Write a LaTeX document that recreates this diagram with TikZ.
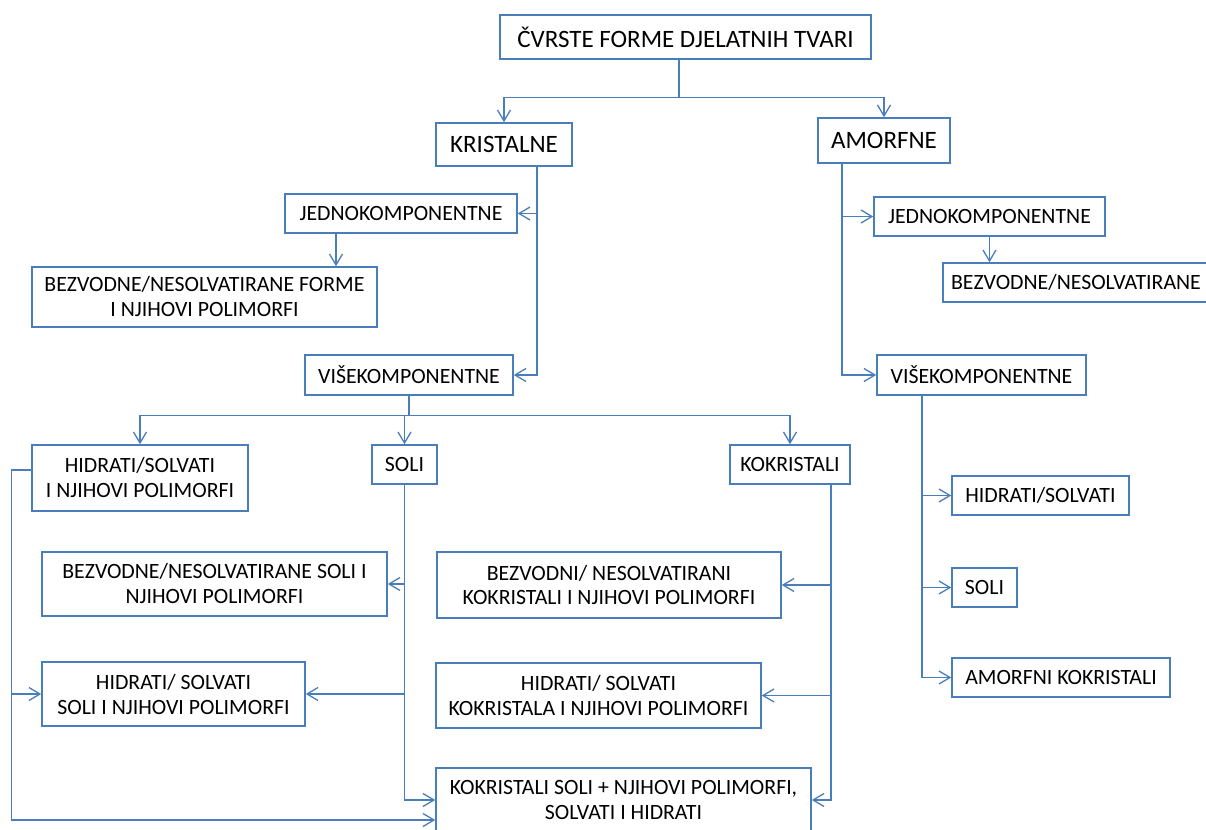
\documentclass[tikz,border=0pt]{standalone}
\usepackage{fontspec}
\setmainfont{Carlito}
\usetikzlibrary{arrows.meta}
\definecolor{mslink}{HTML}{4A7EBB}

\begin{document}
\begin{tikzpicture}[
  x=0.5pt, y=-0.5pt,
  font=\fontsize{10.9}{12.5}\selectfont,
  box/.style    = {draw=mslink, line width=0.75pt, align=center, inner sep=0pt},
  sz/.style 2 args = {minimum width=#1*0.5pt, minimum height=#2*0.5pt},
  big/.style    = {font=\fontsize{12.5}{15}\selectfont},
  flow/.style   = {-{Straight Barb[length=5.5pt,width=6.5pt]}, draw=mslink, line width=0.65pt},
  trunk/.style  = {draw=mslink, line width=1.1pt},
]
\useasboundingbox (0,0) rectangle (1206,830);
\clip (0,0) rectangle (1206,830);

% ---------- top level -----------------------------------------------------------------------
\node[box, big, sz={371}{44}] (top)   at (685.5,37)  {ČVRSTE FORME DJELATNIH TVARI};
\node[box, big, sz={136}{43}] (kris)  at (504,144.5) {KRISTALNE};
\node[box, big, sz={132}{45}] (amorf) at (884,140.5) {AMORFNE};
\coordinate (tx) at (679,0);
\draw[flow] (top.south -| tx) -- ++(0,38) -| (kris);
\draw[flow] (top.south -| tx) -- ++(0,38) -| (amorf);

% ---------- crystalline branch --------------------------------------------------------------
\node[box, sz={232}{39}] (jedL) at (401,213.5) {JEDNOKOMPONENTNE};
\node[box, sz={345}{60}] (bezF) at (204.5,297) {BEZVODNE/NESOLVATIRANE FORME\\I NJIHOVI POLIMORFI};
\node[box, sz={208}{40}] (visL) at (409,375)   {VIŠEKOMPONENTNE};
\coordinate (kx) at (537,0);
\coordinate (jx) at (336,0);
\draw[flow] (kris.south -| kx) |- (jedL);
\draw[flow] (kris.south -| kx) |- (visL);
\draw[flow] (jedL.south -| jx) -- (bezF.north -| jx);

\node[box, sz={216}{66}] (hidL) at (140,478)   {HIDRATI/SOLVATI\\I NJIHOVI POLIMORFI};
\node[box, sz={65}{39}]  (soli) at (404.5,464.5) {SOLI};
\node[box, sz={120}{39}] (kok)  at (790,464.5)   {KOKRISTALI};
\draw[flow] (visL.south) -- ++(0,20) -| (hidL);
\draw[flow] (visL.south) -- ++(0,20) -| (soli);
\draw[flow] (visL.south) -- ++(0,20) -| (kok);

% salts and cocrystals
\node[box, sz={345}{64}] (bezS) at (214.5,584) {BEZVODNE/NESOLVATIRANE SOLI I\\NJIHOVI POLIMORFI};
\node[box, sz={263}{64}] (hidS) at (173.5,694) {HIDRATI/ SOLVATI\\SOLI I NJIHOVI POLIMORFI};
\node[box, sz={344}{66}] (bezK) at (609,585)   {BEZVODNI/ NESOLVATIRANI\\KOKRISTALI I NJIHOVI POLIMORFI};
\node[box, sz={325}{65}] (hidK) at (598.5,695.5) {HIDRATI/ SOLVATI\\KOKRISTALA I NJIHOVI POLIMORFI};
\node[box, sz={375}{64}] (kokS) at (623.5,800) {KOKRISTALI SOLI + NJIHOVI POLIMORFI,\\SOLVATI I HIDRATI};
\coordinate (kkx) at (831,0);
\draw[flow] (soli.south) |- (bezS);
\draw[flow] (soli.south) |- (hidS);
\draw[flow] (soli.south) |- (kokS);
\draw[flow] (kok.south -| kkx) |- (bezK);
\draw[flow] (kok.south -| kkx) |- (hidK);
\draw[flow] (kok.south -| kkx) |- (kokS);
\draw[flow] ([yshift=4pt]hidL.west) -- ++(-20,0) |- (hidS);
\draw[flow] ([yshift=4pt]hidL.west) -- ++(-20,0) |- ([yshift=-10pt]kokS.west);

% ---------- amorphous branch ----------------------------------------------------------------
\node[box, sz={231}{39}] (jedR) at (989.5,216.5) {JEDNOKOMPONENTNE};
\node[box, sz={266}{39}] (bezR) at (1076,282.5)  {BEZVODNE/NESOLVATIRANE};
\node[box, sz={209}{40}] (visR) at (981.5,375)   {VIŠEKOMPONENTNE};
\coordinate (ax) at (842,0);
\draw[flow] (amorf.south -| ax) |- (jedR);
\draw[flow] (amorf.south -| ax) |- (visR);
\draw[flow] (jedR.south) -- (jedR.south |- bezR.north);

\node[box, sz={177}{39}] (hidR)  at (1040.5,495.5) {HIDRATI/SOLVATI};
\node[box, sz={65}{39}]  (soliR) at (984.5,587.5)  {SOLI};
\node[box, sz={218}{39}] (amkok) at (1061,677.5)   {AMORFNI KOKRISTALI};
\coordinate (vx) at (922,0);
\draw[trunk] (visR.south -| vx) -- (vx |- amkok);
\draw[flow] (visR.south -| vx) |- (hidR);
\draw[flow] (visR.south -| vx) |- (soliR);
\draw[flow] (visR.south -| vx) |- (amkok);

\end{tikzpicture}
\end{document}
